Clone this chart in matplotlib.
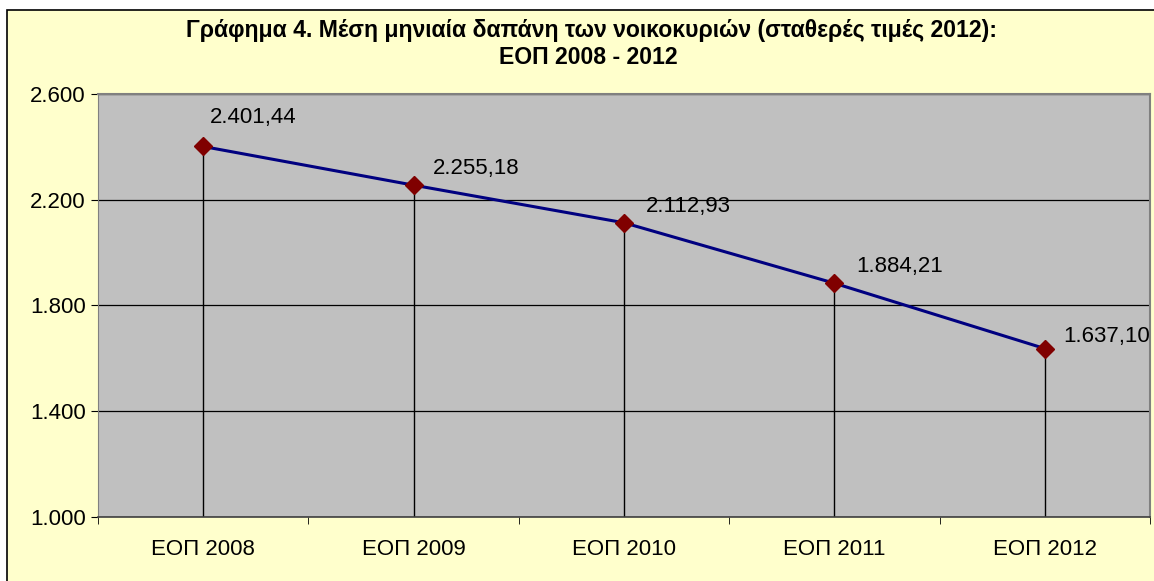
import matplotlib
matplotlib.use("Agg")
import matplotlib.pyplot as plt
import matplotlib.patches as mpatches
import numpy as np

plt.rcParams["font.family"] = ["Liberation Sans", "DejaVu Sans"]

categories = ["ΕΟΠ 2008", "ΕΟΠ 2009", "ΕΟΠ 2010", "ΕΟΠ 2011", "ΕΟΠ 2012"]
spending = [2401.44, 2255.18, 2112.93, 1884.21, 1637.10]
value_labels = ["2.401,44", "2.255,18", "2.112,93", "1.884,21", "1.637,10"]
y_ticks = [1000, 1400, 1800, 2200, 2600]
y_tick_labels = ["1.000", "1.400", "1.800", "2.200", "2.600"]

W, H = 1154, 581
fig = plt.figure(figsize=(W / 100, H / 100), dpi=100, facecolor="white")

# yellow chart-area box (runs off the right/bottom edge like the original)
fig.patches.append(mpatches.Rectangle((7 / W, -0.05), 1.05, 1 - 10 / H + 0.05,
                                      transform=fig.transFigure,
                                      facecolor="#FFFFCC", edgecolor="black",
                                      linewidth=1.2, zorder=-5))

ax = fig.add_axes([98 / W, (H - 517) / H, 1052 / W, (517 - 94) / H])
ax.set_facecolor("#C0C0C0")

x = np.arange(len(categories))
ymin, ymax = 1000, 2600

# drop lines from each point to the category axis
ax.vlines(x, ymin, spending, color="black", linewidth=1.0, zorder=2)
ax.plot(x, spending, color="#000080", linewidth=2.2, zorder=3)
ax.plot(x, spending, linestyle="none", marker="D", markersize=9.5,
        markerfacecolor="#800000", markeredgecolor="#800000", zorder=4)

# first label sits above its point, the rest up and to the right
label_offsets = [(5, 21), (14, 12), (16, 12), (16, 12), (13, 9)]
for xi, yi, lab, off in zip(x, spending, value_labels, label_offsets):
    ax.annotate(lab, (xi, yi), xytext=off, textcoords="offset points",
                fontsize=16, ha="left", va="center", color="black")

ax.set_xlim(-0.5, len(categories) - 0.5)
ax.set_ylim(ymin, ymax)
ax.set_yticks(y_ticks)
ax.set_yticklabels(y_tick_labels, fontsize=16)
ax.set_xticks(x)
ax.set_xticklabels(categories, fontsize=16)
ax.tick_params(axis="x", which="major", length=0, pad=16)
ax.set_xticks(np.arange(-0.5, len(categories), 1.0), minor=True)
ax.tick_params(axis="x", which="minor", length=5, direction="out")
ax.tick_params(axis="y", length=5, direction="out", pad=4)

ax.grid(axis="y", color="black", linewidth=0.9)
ax.set_axisbelow(True)
for side in ["top", "right"]:
    ax.spines[side].set_color("#808080")
    ax.spines[side].set_linewidth(1.5)
ax.spines["left"].set_color("#808080")
ax.spines["bottom"].set_color("#404040")
ax.spines["bottom"].set_linewidth(1.2)

fig.text(592 / W, 1 - 30 / H,
         "Γράφημα 4. Μέση μηνιαία δαπάνη των νοικοκυριών (σταθερές τιμές 2012):",
         ha="center", va="center", fontsize=16.6, fontweight="bold")
fig.text(588 / W, 1 - 57 / H, "ΕΟΠ 2008 - 2012",
         ha="center", va="center", fontsize=16.6, fontweight="bold")

fig.savefig("out.png", dpi=100, facecolor="white")
